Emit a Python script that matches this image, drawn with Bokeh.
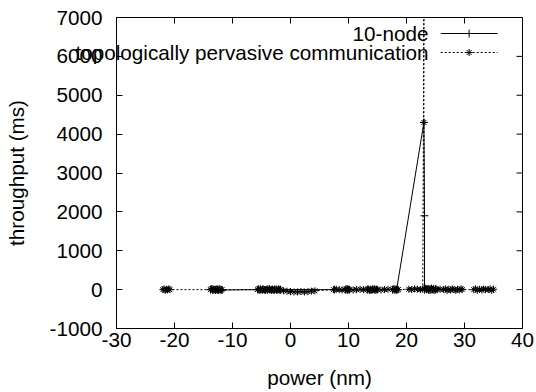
from bokeh.plotting import figure
from bokeh.models import Range1d, FixedTicker, Label, ColumnDataSource, LinearAxis
from bokeh.embed import file_html
from bokeh.resources import INLINE

# ---- data ----
series_names = ["10-node", "topologically pervasive communication"]

node_x = [-13.8, -13.5, -13.2, -12.9, -12.6, -12.3, -12.0, -11.8,
          -5.6, -5.2, -4.8, -4.4, -4.0, -3.6, -3.2, -2.8, -2.4, -2.0, -1.7,
          7.6, 9.5, 9.8, 10.1, 13.3, 13.7, 14.1, 14.5, 14.9, 17.6, 18.0, 18.3,
          23.0, 23.1, 23.1, 23.4, 23.8, 24.2, 24.6, 25.0]
node_y = [0, 10, 0, -10, 0, 10, 0, -10,
          0, 10, 0, -10, 0, 10, 0, -10, 0, 10, 0,
          0, 0, 10, 0, 0, -10, 0, 10, 0, 0, 10, 0,
          4300, 1900, 0, 10, 0, -10, 0, 10]

comm_x = [-22.0, -21.8, -21.6, -21.4, -21.2, -21.0, -20.8,
          -13.8, -13.6, -13.4, -13.2, -13.0, -12.8, -12.6, -12.4, -12.2, -12.0, -11.8,
          -5.7, -5.5, -5.3, -5.1, -4.9, -4.7, -4.5, -4.3, -4.1, -3.9, -3.7, -3.5, -3.3,
          -3.1, -2.9, -2.7, -2.5, -2.3, -2.1, -1.9, -1.7,
          -1.2, -0.6, 0.0, 0.6, 1.2, 1.8, 2.4, 3.0, 3.6, 4.2,
          7.4, 7.9, 8.4, 8.9, 9.4, 9.6, 9.8, 10.0, 10.2, 10.8, 11.4, 12.0, 12.6,
          13.2, 13.4, 13.6, 13.8, 14.0, 14.2, 14.4, 14.6, 14.8, 15.0, 15.6, 16.2, 16.8,
          17.6, 17.8, 18.0, 18.2, 18.4, 18.6,
          20.4, 20.9, 21.4, 21.9, 22.4, 22.8, 23.0, 23.0,
          23.1, 23.3, 23.5, 23.7, 23.9, 24.1, 24.3, 24.5, 24.7, 24.9, 25.1, 25.3, 25.8,
          26.4, 26.7, 27.0, 27.3, 27.6, 27.9, 28.2, 28.5, 28.8, 29.1, 29.4, 29.6,
          31.6, 31.9, 32.2, 32.6, 33.0, 33.3, 33.6, 34.1, 34.4, 34.7, 35.0]
comm_y = [0, 20, -20, 10, -10, 20, 0,
          0, 20, -20, 10, -10, 20, 0, -20, 10, -10, 0,
          0, 20, -20, 10, -10, 20, 0, -20, 10, -10, 20, 0, -20,
          10, -10, 20, 0, -20, 10, -10, 0,
          -30, -40, -50, -60, -60, -50, -60, -50, -40, -30,
          0, 10, 0, -10, 0, 20, -20, 10, 0, -10, 0, 10, 0,
          0, 20, -20, 10, -10, 20, 0, -20, 10, 0, -10, 0, 10,
          0, 20, -20, 10, -10, 0,
          10, 0, 20, 10, 0, 10, 7600, 4300,
          20, 40, 0, 30, -20, 20, 40, 0, 30, -20, 20, 0, 10,
          0, 20, -20, 10, -10, 20, 0, -20, 10, -10, 20, 0,
          0, 20, -20, 10, -10, 20, 0, 0, 20, -20, 10]

x_ticks = [-30, -20, -10, 0, 10, 20, 30, 40]
x_tick_labels = ["-30", "-20", "-10", "0", "10", "20", "30", "40"]
y_ticks = [-1000, 0, 1000, 2000, 3000, 4000, 5000, 6000, 7000]
y_tick_labels = ["-1000", "0", "1000", "2000", "3000", "4000", "5000", "6000", "7000"]

X0, X1 = -30, 40
Y0, Y1 = -1000, 7000

FONT = "Liberation Sans"
FS = "20.7px"

FW, FH = 406, 311  # frame size in px
FL, FT = 116, 17   # frame left / top in px
p = figure(width=536, height=392, output_backend="svg", toolbar_location=None,
           x_range=Range1d(X0, X1), y_range=Range1d(Y0, Y1),
           min_border_left=FL, min_border_right=14, min_border_top=FT, min_border_bottom=64)
p.background_fill_color = "white"
p.border_fill_color = "white"
p.outline_line_color = "black"
p.outline_line_width = 1
p.grid.visible = False

for ax in (p.xaxis[0], p.yaxis[0]):
    ax.major_tick_in = 6
    ax.major_tick_out = 0
    ax.minor_tick_line_color = None
    ax.major_label_text_font = FONT
    ax.major_label_text_font_size = FS
    ax.major_label_text_color = "black"
    ax.axis_label_text_font = FONT
    ax.axis_label_text_font_size = FS
    ax.axis_label_text_font_style = "normal"
    ax.axis_label_text_color = "black"
    ax.axis_line_color = "black"
    ax.major_tick_line_color = "black"

p.xaxis[0].ticker = FixedTicker(ticks=x_ticks)
p.yaxis[0].ticker = FixedTicker(ticks=y_ticks)
p.xaxis[0].major_label_overrides = dict(zip(x_ticks, x_tick_labels))
p.yaxis[0].major_label_overrides = dict(zip(y_ticks, y_tick_labels))
p.xaxis[0].axis_label = "power (nm)"
p.yaxis[0].axis_label = "throughput (ms)"
p.xaxis[0].major_label_standoff = 4
p.yaxis[0].major_label_standoff = 14
p.xaxis[0].axis_label_standoff = 16
p.yaxis[0].axis_label_standoff = 19

# mirror ticks (top and right), gnuplot style
tick_dy = 6 * (Y1 - Y0) / FH
tick_dx = 6 * (X1 - X0) / FW
p.segment(x0=x_ticks, y0=[Y1] * len(x_ticks), x1=x_ticks, y1=[Y1 - tick_dy] * len(x_ticks),
          line_color="black", line_width=1)
p.segment(x0=[X1] * len(y_ticks), y0=y_ticks, x1=[X1 - tick_dx] * len(y_ticks), y1=y_ticks,
          line_color="black", line_width=1)

src_node = ColumnDataSource(dict(x=node_x, y=node_y))
src_comm = ColumnDataSource(dict(x=comm_x, y=comm_y))

p.line("x", "y", source=src_comm, line_color="black", line_width=1, line_dash="2 2")
p.scatter("x", "y", source=src_comm, marker="asterisk", size=7, line_color="black", line_width=1)
p.line("x", "y", source=src_node, line_color="black", line_width=1)
p.scatter("x", "y", source=src_node, marker="cross", size=8, line_color="black", line_width=1)

# gnuplot-style key: text right-aligned, sample to its right
key_text_right = 428
key_rows = [33, 52]          # canvas y of the two key rows
key_x0, key_x1 = 25.9, 35.7  # sample line extent (data x)
key_mid = (key_x0 + key_x1) / 2
key_y = [Y1 - (ky - FT) * (Y1 - Y0) / FH for ky in key_rows]
p.line([key_x0, key_x1], [key_y[0]] * 2, line_color="black", line_width=1)
p.scatter([key_mid], [key_y[0]], marker="cross", size=8, line_color="black")
p.line([key_x0, key_x1], [key_y[1]] * 2, line_color="black", line_width=1, line_dash="2 2")
p.scatter([key_mid], [key_y[1]], marker="asterisk", size=7, line_color="black")

# row 1 fits inside the frame
p.add_layout(Label(x=key_text_right, y=key_rows[0], x_units="canvas", y_units="canvas",
                   text=series_names[0], text_align="right", text_baseline="middle",
                   text_font=FONT, text_font_size=FS, text_color="black"))

# row 2 overflows the frame to the left (as in the original); a side-panel
# axis label is not clipped to the frame, so use a bare right axis for it
row2_val = 6100
text_w = 17.06 * 20.7
key_axis = LinearAxis(ticker=FixedTicker(ticks=[row2_val]),
                      major_label_overrides={row2_val: series_names[1]},
                      major_label_standoff=int(round(key_text_right - text_w - (FL + FW))),
                      major_tick_in=0, major_tick_out=0, major_tick_line_color=None,
                      minor_tick_line_color=None, axis_line_color=None,
                      major_label_text_font=FONT, major_label_text_font_size=FS,
                      major_label_text_color="black")
p.add_layout(key_axis, "right")

open("out.html", "w").write(file_html(p, INLINE))
